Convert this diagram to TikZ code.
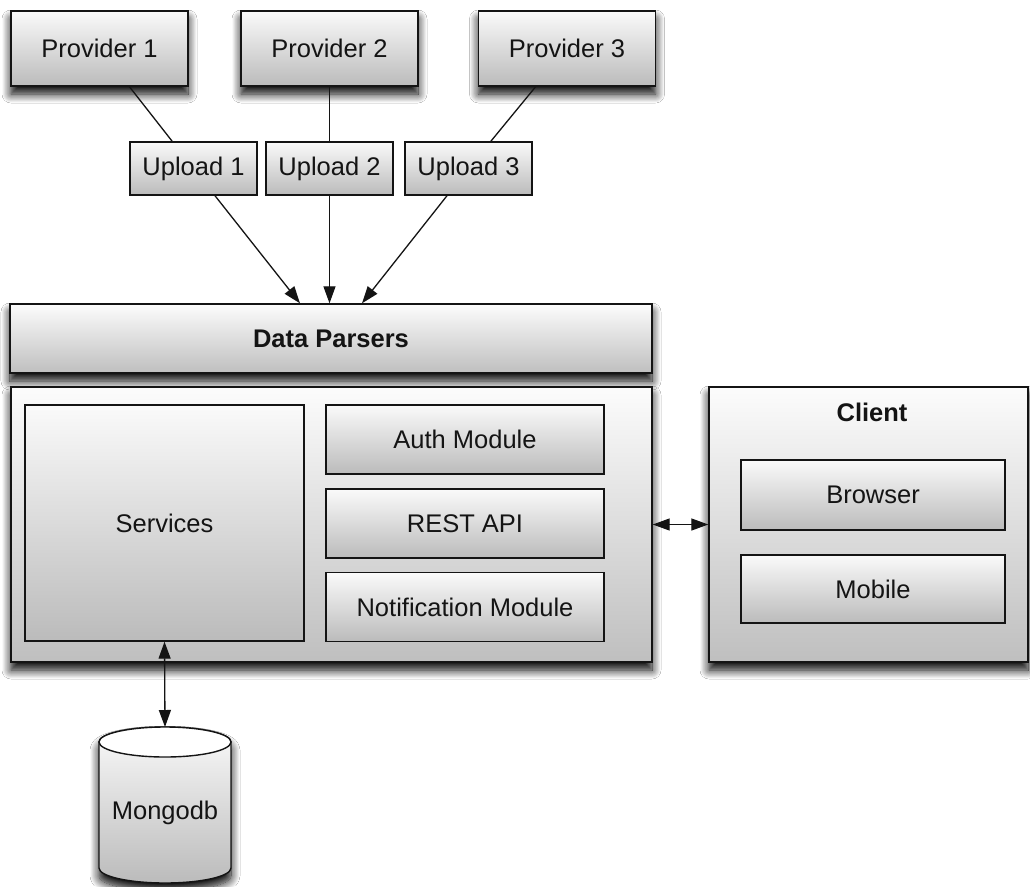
\documentclass[tikz,border=0pt]{standalone}
\usepackage{fontspec}
\setmainfont{Liberation Sans}
\usetikzlibrary{shadows.blur,arrows.meta,calc}
\definecolor{ink}{HTML}{141414}
\definecolor{boxtop}{HTML}{FAFAFA}
\definecolor{boxbot}{HTML}{BBBBBB}
\definecolor{paneltop}{HTML}{FCFCFC}
\definecolor{panelbot}{HTML}{BFBFBF}

\tikzset{
  box/.style={draw=ink, line width=1.4pt, top color=boxtop, bottom color=boxbot,
    inner sep=0pt, text=ink, font=\fontsize{25.5pt}{30pt}\selectfont},
  panel/.style={box, top color=paneltop, bottom color=panelbot},
  softshadow/.style={blur shadow={shadow xshift=0pt, shadow yshift=-8pt,
    shadow blur radius=9pt, shadow opacity=100, shadow blur steps=12}},
  txt/.style={inner sep=0pt, text=ink, font=\fontsize{25.5pt}{30pt}\selectfont},
  link/.style={draw=ink, line width=1.3pt},
  tipshape/.tip={Triangle[length=17pt,width=12pt]},
  arr/.style={link, -tipshape},
  darr/.style={link, tipshape-tipshape},
}

\begin{document}
\begin{tikzpicture}[x=1pt, y=-1pt]
  \useasboundingbox (0,0) rectangle (1030,886);
  \fill[white] (0,0) rectangle (1030,886);

  % data providers
  \node[box, softshadow, minimum width=177pt, minimum height=75pt] (p1) at (99.5,48.5) {Provider 1};
  \node[box, softshadow, minimum width=177pt, minimum height=75pt] (p2) at (329.5,48.5) {Provider 2};
  \node[box, softshadow, minimum width=177pt, minimum height=75pt] (p3) at (567,48.5) {Provider 3};

  % upload endpoints
  \node[box, minimum width=127pt, minimum height=53pt] (u1) at (193.5,168.5) {Upload 1};
  \node[box, minimum width=127pt, minimum height=53pt] (u2) at (329.5,168.5) {Upload 2};
  \node[box, minimum width=127pt, minimum height=53pt] (u3) at (468.5,168.5) {Upload 3};

  \draw[link] (p1) -- (u1);
  \draw[link] (p2) -- (u2);
  \draw[link] (p3) -- (u3);

  % parsing layer
  \node[panel, softshadow, minimum width=642pt, minimum height=69pt,
        font=\fontsize{25.5pt}{30pt}\selectfont\bfseries] (dp) at (331,338.5) {Data Parsers};

  \draw[arr] (u1) -- ([xshift=-31pt]dp.north);
  \draw[arr] (u2) -- (u2 |- dp.north);
  \draw[arr] (u3) -- ([xshift=31pt]dp.north);

  % server
  \node[panel, softshadow, minimum width=641pt, minimum height=275pt] (server) at (331.5,524.5) {};
  \node[box, minimum width=279pt, minimum height=236pt] (services) at (164.5,523) {Services};
  \node[box, minimum width=278pt, minimum height=69pt] (auth) at (465,439.5) {Auth Module};
  \node[box, minimum width=278pt, minimum height=69pt] (rest) at (465,523.5) {REST API};
  \node[box, minimum width=278pt, minimum height=69pt] (notif) at (465,607) {Notification Module};

  % client
  \node[panel, softshadow, minimum width=319pt, minimum height=275pt] (client) at (868.5,524.5) {};
  \node[txt, font=\fontsize{25.5pt}{30pt}\selectfont\bfseries] (clienttitle) at (872,412) {Client};
  \node[box, minimum width=264pt, minimum height=70pt] (browser) at (873,495) {Browser};
  \node[box, minimum width=264pt, minimum height=68pt] (mobile) at (873,589) {Mobile};

  \draw[darr] (server.east) -- (client.west);

  % database cylinder
  \path[draw=ink, line width=1.4pt, top color=boxtop, bottom color=boxbot, softshadow]
    (99,742) -- (99,868)
    .. controls (99,876.3) and (128.5,883) .. (165,883)
    .. controls (201.5,883) and (231,876.3) .. (231,868)
    -- (231,742)
    .. controls (231,733.7) and (201.5,727) .. (165,727)
    .. controls (128.5,727) and (99,733.7) .. (99,742) -- cycle;
  \draw[ink, line width=1.4pt, fill=white] (165,742) ellipse [x radius=66, y radius=15];
  \coordinate (dbtop) at (165,727);
  \node[txt] (mongo) at (165,813) {Mongodb};

  \draw[darr] (services.south) -- (dbtop);
\end{tikzpicture}
\end{document}
